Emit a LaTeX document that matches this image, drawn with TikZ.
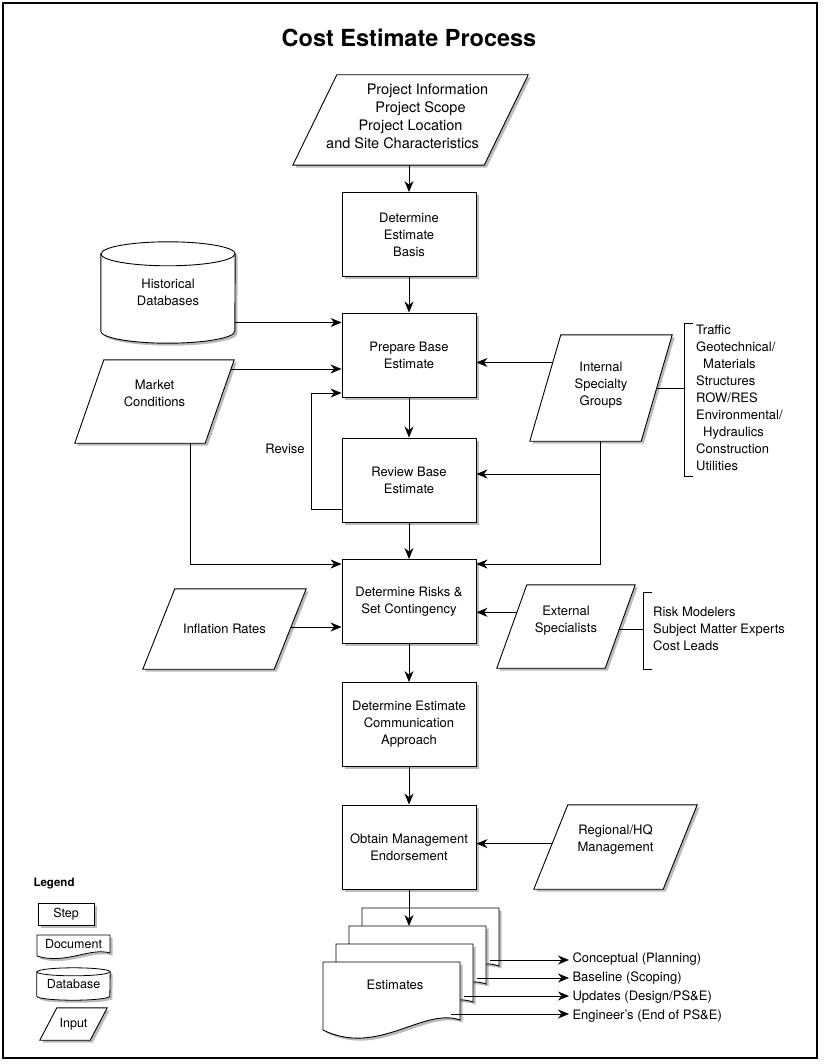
\documentclass[tikz,border=0pt]{standalone}
\usepackage{fontspec}
\setmainfont{TeX Gyre Heros}
\usetikzlibrary{arrows.meta,calc,shadows,backgrounds}

\newcommand\boxfont{\fontsize{13}{17}\selectfont}
\newcommand\legfont{\fontsize{12.5}{14}\selectfont}

\tikzset{
  boxshadow/.style={drop shadow={shadow xshift=2.5pt,shadow yshift=-2.5pt,fill=black!60,opacity=0.45}},
  stepbox/.style={draw,line width=0.9pt,fill=white,boxshadow,minimum width=134pt,minimum height=84pt,align=center,inner sep=2pt,font=\boxfont},
  inputbox/.style={rectangle,align=center,inner sep=1pt,font=\boxfont},
  arr/.style={-{Stealth[length=11pt,width=9pt,inset=3.5pt]},line width=0.9pt},
  link/.style={line width=0.9pt},
  docpage/.pic={
    \draw[line width=0.9pt,fill=white,boxshadow] (0,0) -- (137,0) -- (137,58) .. controls (100,45) and (55,95) .. (0,68) -- cycle;
    \coordinate (-nw) at (0,0);
    \coordinate (-out) at (128,52);
  },
}

% parallelogram behind an input node: #1 node, #2 half of the slant
\newcommand\slantbox[2]{%
  \begin{scope}[on background layer]
  \draw[line width=0.9pt,fill=white,boxshadow] ([xshift=#2]#1.north west) coordinate (#1-tl) -- ([xshift=#2]#1.north east) coordinate (#1-tr)
    -- ([xshift=-#2]#1.south east) coordinate (#1-br) -- ([xshift=-#2]#1.south west) coordinate (#1-bl) -- cycle;
  \end{scope}}

\begin{document}
\begin{tikzpicture}[x=1pt,y=-1pt]
\useasboundingbox (0,0) rectangle (825,1064);
\draw[line width=1.4pt] (3,3) rectangle (817,1058);
\node[font=\bfseries\fontsize{23.5}{28}\selectfont] (title) at (409,38) {Cost Estimate Process};

% main column
\node[inputbox,minimum width=191pt,minimum height=90pt,text depth=7pt,font=\fontsize{14.5}{18}\selectfont] (proj) at (410.5,120)
  {\hspace*{34pt}Project Information\\\hspace*{20pt}Project Scope\\Project Location\\and Site Characteristics\hspace*{16pt}};
\slantbox{proj}{22pt}
\node[stepbox] (basis) at (409,234.5) {Determine\\Estimate\\Basis};
\node[stepbox] (prep) at (409,355) {Prepare Base\\Estimate};
\node[stepbox] (review) at (409,480) {Review Base\\Estimate};
\node[stepbox] (risks) at (409,601.5) {Determine Risks \&\\Set Contingency};
\node[stepbox] (comm) at (409,724.5) {Determine Estimate\\Communication\\Approach};
\node[stepbox] (obtain) at (409,847) {Obtain Management\\Endorsement};

% inputs
\node[inputbox,minimum width=134pt,minimum height=101pt] (hist) at (168,292.5) {Historical\\Databases};
\begin{scope}[on background layer]
\draw[line width=0.9pt,fill=white,boxshadow] ([yshift=-12pt]hist.north west) -- ([yshift=12pt]hist.south west)
  arc[start angle=180,end angle=360,x radius=67pt,y radius=12pt] -- ([yshift=-12pt]hist.north east)
  arc[start angle=0,end angle=180,x radius=67pt,y radius=12pt] -- cycle;
\draw[line width=0.9pt] ([yshift=-12pt]hist.north west) arc[start angle=180,end angle=360,x radius=67pt,y radius=12pt];
\end{scope}
\node[inputbox,minimum width=130pt,minimum height=83pt,text depth=16pt] (mkt) at (154.5,401.5) {Market\\Conditions};
\slantbox{mkt}{14.5pt}
\node[inputbox,minimum width=111pt,minimum height=106pt,text depth=9pt] (intern) at (601,388) {Internal\\Specialty\\Groups};
\slantbox{intern}{15.5pt}
\node[inputbox,minimum width=131pt,minimum height=80pt] (infl) at (224.5,629) {Inflation Rates};
\slantbox{infl}{16pt}
\node[inputbox,minimum width=108pt,minimum height=83pt,text depth=14pt] (ext) at (566,626.5) {External\\Specialists};
\slantbox{ext}{15pt}
\node[inputbox,minimum width=129pt,minimum height=84pt,text depth=18pt] (reg) at (615.5,847) {Regional/HQ\\Management};
\slantbox{reg}{17pt}

% groups
\node[anchor=north west,align=left,inner sep=0pt,font=\boxfont] (ilist) at (696,325)
  {Traffic\\Geotechnical/\\\hspace*{7pt}Materials\\Structures\\ROW/RES\\Environmental/\\\hspace*{7pt}Hydraulics\\Construction\\Utilities};
\node[anchor=north west,align=left,inner sep=0pt,font=\boxfont] (elist) at (653,607)
  {Risk Modelers\\Subject Matter Experts\\Cost Leads};
\coordinate (ib) at ([xshift=-12pt]ilist.west);
\coordinate (eb) at ([xshift=-10pt]elist.west);
\draw[link] ([xshift=-3pt,yshift=2pt]ilist.north west) -| ([xshift=-12pt,yshift=-5pt]ilist.south west) -- ([xshift=-3pt,yshift=-5pt]ilist.south west);
\draw[link] ([xshift=-1pt,yshift=15pt]elist.north west) -| ([xshift=-10pt,yshift=-18pt]elist.south west) -- ([xshift=-1pt,yshift=-18pt]elist.south west);
\draw[link] ($(intern-tr)!0.5!(intern-br)$) coordinate (i3) -- (i3 -| ib);
\draw[link] ($(ext-tr)!0.54!(ext-br)$) coordinate (e2) -- (e2 -| eb);

% flow
\draw[arr] (proj.south -| basis.north) -- (basis.north);
\draw[arr] (basis) -- (prep);
\draw[arr] (prep) -- (review);
\draw[arr] (review) -- (risks);
\draw[arr] (risks) -- (comm);
\draw[arr] (comm) -- (obtain);
\draw[arr] ([yshift=-30pt]hist.east) coordinate (h1) -- (h1 -| prep.west);
\draw[arr] ($(mkt-tr)!0.11!(mkt-br)$) coordinate (m1) -- (m1 -| prep.west);
\draw[arr] ($(mkt-bl)!0.89!(mkt-br)$) |- ([yshift=-5pt]risks.north west);
\draw[arr] ([yshift=-29pt]review.west) -- ++(-30,0) |- ([yshift=-38pt]prep.west);
\node[font=\boxfont] (rev) at (285,449) {Revise};
\draw[arr] ($(intern-tl)!0.26!(intern-bl)$) coordinate (i1) -- (i1 -| prep.east);
\draw[arr] ($(intern-bl)!0.63!(intern-br)$) coordinate (i2) |- ([yshift=-5pt]risks.north east);
\coordinate (rv) at ([yshift=6pt]review.east);
\draw[arr] (rv -| i2) -- (rv);
\draw[arr] ($(infl-tr)!0.475!(infl-br)$) coordinate (f1) -- (f1 -| risks.west);
\draw[arr] ($(ext-tl)!0.33!(ext-bl)$) coordinate (e1) -- (e1 -| risks.east);
\draw[arr] ($(reg-tl)!0.46!(reg-bl)$) coordinate (g1) -- (g1 -| obtain.east);

% estimates
\pic (d1) at (362,908) {docpage};
\pic (d2) at (349,926) {docpage};
\pic (d3) at (336,944) {docpage};
\pic (d4) at (323,962) {docpage};
\node[font=\boxfont] (est) at (395,985) {Estimates};
\draw[arr] (obtain.south) -- (obtain.south |- d2-nw);
\node[anchor=west,font=\boxfont] (conc) at (569,959) {Conceptual (Planning)};
\node[anchor=west,font=\boxfont] (base) at (569,978) {Baseline (Scoping)};
\node[anchor=west,font=\boxfont] (upd) at (569,997) {Updates (Design/PS\&E)};
\node[anchor=west,font=\boxfont] (eng) at (569,1016) {Engineer’s (End of PS\&E)};
\draw[arr] (d1-out) -- (d1-out -| conc.west);
\draw[arr] (d2-out) -- (d2-out -| base.west);
\draw[arr] (d3-out) -- (d3-out -| upd.west);
\draw[arr] (d4-out) -- (d4-out -| eng.west);

% legend
\node[anchor=west,font=\bfseries\fontsize{11.5}{13}\selectfont] (legend) at (30,884) {Legend};
\node[draw,line width=0.8pt,fill=white,boxshadow,minimum width=56pt,minimum height=22pt,inner sep=1pt,font=\legfont] (lstep) at (66,914) {Step};
\draw[line width=0.8pt,fill=white,boxshadow] (37,935) -- (110,935) -- (110,953) .. controls (90,947) and (65,965) .. (37,956) -- cycle;
\node[font=\legfont] (ldoc) at (73.5,944) {Document};
\node[font=\legfont,minimum width=73pt,minimum height=32pt,inner sep=0pt] (ldb) at (73.5,984) {Database};
\begin{scope}[on background layer]
\draw[line width=0.8pt,fill=white,boxshadow] ([yshift=-4pt]ldb.north west) -- ([yshift=4pt]ldb.south west)
  arc[start angle=180,end angle=360,x radius=36.5pt,y radius=4pt] -- ([yshift=-4pt]ldb.north east)
  arc[start angle=0,end angle=180,x radius=36.5pt,y radius=4pt] -- cycle;
\draw[line width=0.8pt] ([yshift=-4pt]ldb.north west) arc[start angle=180,end angle=360,x radius=36.5pt,y radius=4pt];
\end{scope}
\node[inputbox,minimum width=50pt,minimum height=32pt,font=\legfont] (linput) at (73.5,1024) {Input};
\slantbox{linput}{8.5pt}
\end{tikzpicture}
\end{document}
